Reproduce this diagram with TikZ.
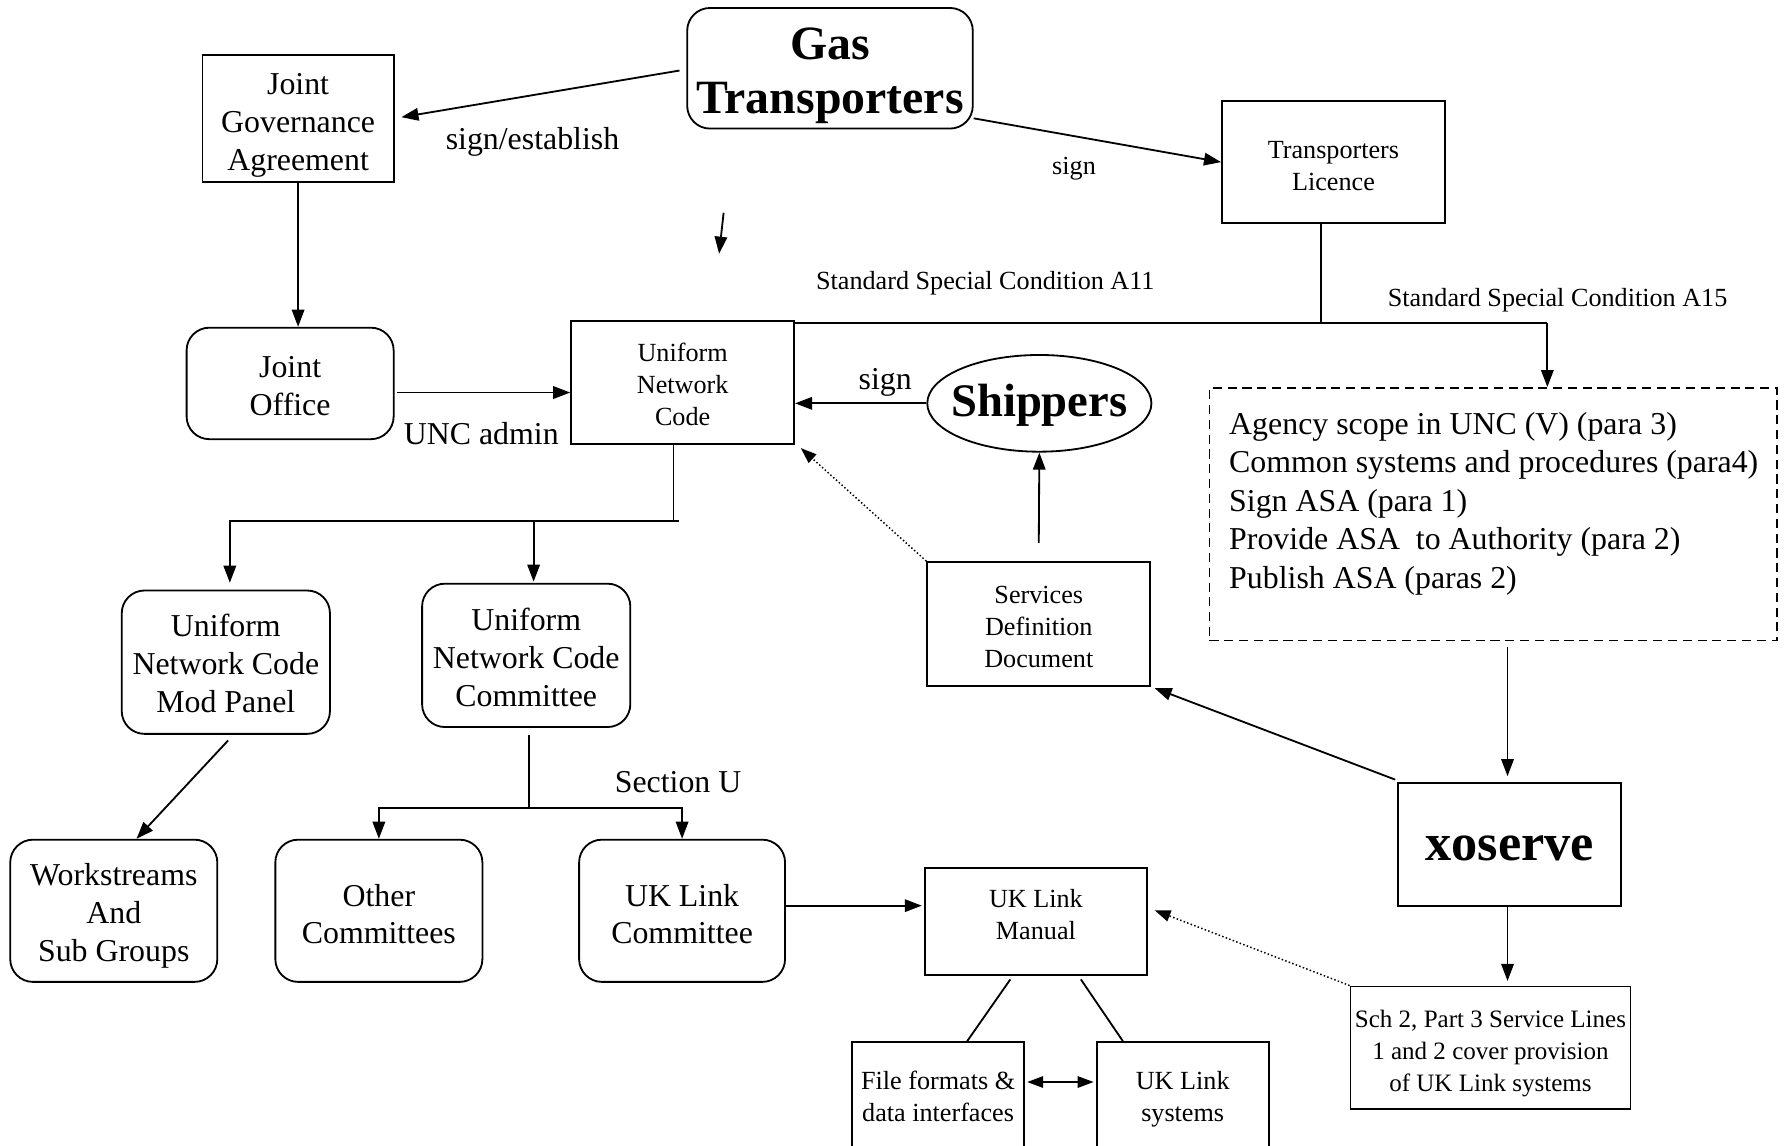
\documentclass[tikz,border=0pt]{standalone}
\usepackage{fontspec}
\setmainfont{Liberation Serif}
\usetikzlibrary{arrows.meta,calc,shapes.geometric}
\tikzset{
  big/.style={font=\fontsize{14}{16.6}\selectfont},
  small/.style={font=\fontsize{11.5}{14}\selectfont},
  rbox/.style={draw, line width=0.8pt, rectangle, inner sep=0pt},
  rrbox/.style={rbox, rounded corners=10pt},
  tx/.style={inner sep=0pt, align=center},
  ln/.style={line width=0.8pt},
  arr/.style={ln, -{Triangle[length=7.5pt,width=5.5pt]}},
  arrtwo/.style={ln, {Triangle[length=7pt,width=5pt]}-{Triangle[length=7pt,width=5pt]}},
  dotarr/.style={line width=0.65pt, densely dotted, -{Triangle[length=7pt,width=5pt]}},
  lbl/.style={inner sep=0pt}
}
\begin{document}
\begin{tikzpicture}[x=0.5pt,y=-0.5pt]
\useasboundingbox (0,0) rectangle (1568,1007);

% boxes
\node[rbox,minimum width=84pt,minimum height=56pt] (jga) at (262,104) {};
\node[rrbox,minimum width=125.5pt,minimum height=53pt] (gas) at (729.5,60) {};
\node[rbox,minimum width=98pt,minimum height=53.5pt] (tl) at (1172,142.5) {};
\node[rbox,minimum width=98pt,minimum height=54pt] (unc) at (600,336) {};
\node[rrbox,minimum width=91pt,minimum height=49pt] (jo) at (255,337) {};
\node[draw,ellipse,line width=0.8pt,inner sep=0pt,minimum width=98.5pt,minimum height=42.5pt] (ship) at (913.5,354.5) {};
\node[rbox,minimum width=98pt,minimum height=54.5pt] (sdd) at (913,548.5) {};
\node[rbox,dashed,dash pattern=on 4pt off 2.5pt,minimum width=249.5pt,minimum height=111pt] (dbox) at (1312.5,452) {};
\node[rrbox,minimum width=91.5pt,minimum height=63pt] (mod) at (198.5,582) {};
\node[rrbox,minimum width=91.5pt,minimum height=63pt] (comm) at (462.5,576) {};
\node[rrbox,minimum width=91pt,minimum height=62.5pt] (work) at (100,800.5) {};
\node[rrbox,minimum width=91pt,minimum height=62.5pt] (other) at (333,800.5) {};
\node[rrbox,minimum width=90.5pt,minimum height=62.5pt] (uklc) at (599.5,800.5) {};
\node[rbox,minimum width=97.5pt,minimum height=47pt] (uklm) at (910.5,810) {};
\node[rbox,minimum width=75.5pt,minimum height=49pt] (ff) at (824.5,965) {};
\node[rbox,minimum width=75.5pt,minimum height=49pt] (uls) at (1039.5,965) {};
\node[rbox,minimum width=98pt,minimum height=54pt] (xo) at (1327,742) {};
\node[rbox,minimum width=123pt,minimum height=54pt] (sch) at (1310,921) {};

% texts
\node[tx,big] (tjga) at (262,110) {Joint\\Governance\\Agreement};
\node[tx,font=\fontsize{21}{24}\selectfont\bfseries] (tgas) at (729.5,66.5) {Gas\\Transporters};
\node[tx,small] (ttl) at (1172,146) {Transporters\\Licence};
\node[tx,small] (tunc) at (600,338) {Uniform\\Network\\Code};
\node[tx,big] (tjo) at (255,339.5) {Joint\\Office};
\node[tx,font=\fontsize{20.5}{24}\selectfont\bfseries] (tship) at (913.5,356) {Shippers};
\node[tx,small] (tsdd) at (913,551) {Services\\Definition\\Document};
\node[lbl,align=left,anchor=north west,font=\fontsize{14}{16.9}\selectfont] (tdbox) at (1080,362) {Agency scope in UNC (V) (para 3)\\Common systems and procedures (para4)\\Sign ASA (para 1)\\Provide ASA\ \ to Authority (para 2)\\Publish ASA (paras 2)};
\node[tx,big] (tmod) at (198.5,583) {Uniform\\Network Code\\Mod Panel};
\node[tx,big] (tcomm) at (462.5,578) {Uniform\\Network Code\\Committee};
\node[tx,big] (twork) at (100,805) {Workstreams\\And\\Sub Groups};
\node[tx,big] (tother) at (333,803.5) {Other\\Committees};
\node[tx,big] (tuklc) at (599.5,803.5) {UK Link\\Committee};
\node[tx,small] (tuklm) at (910.5,804) {UK Link\\Manual};
\node[tx,small] (tff) at (824.5,964) {File formats \&\\data interfaces};
\node[tx,small] (tuls) at (1039.5,966) {UK Link\\systems};
\node[tx,font=\fontsize{23}{26}\selectfont\bfseries] (txo) at (1327,746) {xoserve};
\node[tx,font=\fontsize{11}{14}\selectfont] (tsch) at (1310,926) {Sch 2, Part 3 Service Lines\\1 and 2 cover provision\\of UK Link systems};

% labels
\node[lbl,big] (l1) at (468,125) {sign/establish};
\node[lbl,small] (l2) at (944,148) {sign};
\node[lbl,small] (l3) at (866,249) {Standard Special Condition A11};
\node[lbl,small] (l4) at (1369,264) {Standard Special Condition A15};
\node[lbl,big] (l5) at (778,336) {sign};
\node[lbl,big] (l6) at (423,381) {UNC admin};
\node[lbl,big] (l7) at (596,687) {Section U};

% connectors
\draw[arr] ($(gas.west)+(-6,2)$) -- ($(jga.east)+(6,-1)$);
\draw[arr] ($(gas.east)+(0,44)$) -- (tl.west);
\coordinate (s1) at (636,187);
\coordinate (s2) at (632,223);
\draw[arr] (s1) -- (s2);
\coordinate (t1) at ($(tl.south)+(-11,0)$);
\draw[ln] (t1) -- (t1 |- 0,285);
\coordinate (hA) at ($(unc.north east)+(0,3)$);
\coordinate (hB) at ($(dbox.north)+(47.5,-56)$);
\draw[ln] (hA) -- (hB);
\draw[arr] (hB) -- ($(dbox.north)+(47.5,0)$);
\draw[arr] ($(xo.north |- dbox.south)+(-2,5)$) -- ($(xo.north)+(-2,-5)$);
\draw[arr] ($(xo.north west)+(-2,-2)$) -- ($(sdd.south east)+(3,1)$);
\draw[arr] ($(xo.south)+(-2,0)$) -- ($(sch.north -| xo.south)+(-2,-4)$);
\draw[dotarr] (sch.north west) -- ($(uklm.east)+(6,-10)$);
\draw[dotarr] (sdd.north west) -- ($(unc.south east)+(5,3)$);
\draw[arr] ($(sdd.north)+(0,-16)$) -- (ship.south);
\draw[arr] (ship.west) -- (unc.east |- ship.west);
\draw[arr] (jga.south) -- (jga.south |- jo.north);
\draw[arr] ($(jo.east)+(2,8)$) -- (unc.west |- 0,345);
\coordinate (j1) at ($(unc.south)+(-8,67)$);
\draw[ln] ($(unc.south)+(-8,0)$) -- (j1) -- ++(5,0);
\draw[arr] (j1) -| ($(mod.north)+(3.5,-6)$);
\coordinate (c1) at ($(comm.north)+(6.5,-1)$);
\draw[arr] (c1 |- j1) -- (c1);
\draw[arr] ($(mod.south)+(2,5)$) -- ($(work.north)+(20,0)$);
\coordinate (j2) at ($(comm.south)+(2.5,70)$);
\draw[ln] ($(comm.south)+(2.5,6)$) -- (j2);
\draw[arr] (j2) -| (other.north);
\draw[arr] (j2) -| (uklc.north);
\draw[arr] ($(uklc.east)+(0,-4.5)$) -- ($(uklm.west)+(-2,-14)$);
\draw[ln] ($(uklm.south)+(-22.5,3)$) -- ($(ff.north)+(25.5,0)$);
\draw[ln] ($(uklm.south)+(39.5,3)$) -- ($(uls.north)+(-52.5,0)$);
\draw[arrtwo] ($(ff.east)+(2,-14)$) -- ($(uls.west)+(-2,-14)$);
\end{tikzpicture}
\end{document}
